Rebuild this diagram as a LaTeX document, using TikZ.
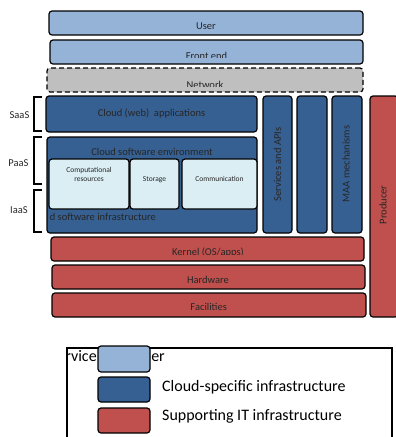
\documentclass[tikz,border=0pt]{standalone}
\usepackage{fontspec}
\setmainfont{Carlito}
\definecolor{consumerblue}{HTML}{95B3D7}
\definecolor{cloudblue}{HTML}{376092}
\definecolor{supportred}{HTML}{C0504D}
\definecolor{netgray}{HTML}{BFBFBF}
\definecolor{resourceblue}{HTML}{DBEEF4}
\tikzset{layer/.style={draw,line width=1.2pt,rounded corners=3pt,inner sep=0pt}}
\tikzset{consumer/.style={layer,fill=consumerblue}}
\tikzset{cloud/.style={layer,fill=cloudblue}}
\tikzset{support/.style={layer,fill=supportred}}
\tikzset{resource/.style={layer,fill=resourceblue}}
\tikzset{lbl/.style={anchor=base,inner sep=0pt,text=black!85,font=\fontsize{10.5}{12}\selectfont}}
\tikzset{small/.style={lbl,font=\fontsize{7.5}{9}\selectfont}}
\tikzset{vlbl/.style={inner sep=0pt,rotate=90,text=black!85,font=\fontsize{10.5}{12}\selectfont}}
\tikzset{legend/.style={anchor=base,inner sep=0pt,font=\fontsize{16}{19}\selectfont}}

\begin{document}
\begin{tikzpicture}[x=1pt,y=-1pt]
    \useasboundingbox (0,0) rectangle (396,437);
    % consumer side
    \node[consumer,minimum width=314pt,minimum height=24pt] (user) at (206,23) {};
    \node[lbl] (userlbl) at (206,29) {User};
    \node[consumer,minimum width=313pt,minimum height=24pt] (front) at (206.5,52) {};
    \begin{scope}
      \clip (0,0) rectangle (396,57);
      \node[lbl] (frontlbl) at (206.5,59) {Front end};
    \end{scope}
    \node[layer,dash pattern=on 5pt off 3pt,fill=netgray,minimum width=316pt,minimum height=24pt] (net) at (205,80) {};
    \begin{scope}
      \clip (0,0) rectangle (396,86);
      \node[lbl] (netlbl) at (205,88) {Network};
    \end{scope}
    % cloud stack
    \node[cloud,minimum width=211pt,minimum height=36pt] (apps) at (151.5,114) {};
    \node[lbl] (appslbl) at (151.5,116) {Cloud (web)\ \ applications};
    \node[cloud,minimum width=210pt,minimum height=96pt] (env) at (152,185) {};
    \node[lbl] (envlbl) at (152,155.7) {Cloud software environment};
    \begin{scope}
      \clip (50,137) rectangle (257,233);
      \node[lbl,anchor=base east] (infralbl) at (156,220.7) {Cloud software infrastructure};
    \end{scope}
    \node[resource,minimum width=80pt,minimum height=50pt] (comp) at (89,184) {};
    \node[small,align=center] (complbl) at (89,181.5) {Computational\\resources};
    \node[resource,minimum width=49pt,minimum height=50pt] (stor) at (154.5,184) {};
    \node[small] (storlbl) at (154.5,181.5) {Storage};
    \node[resource,minimum width=75pt,minimum height=50pt] (comm) at (219.5,184) {};
    \node[small] (commlbl) at (219.5,181.5) {Communication};
    % vertical columns
    \node[cloud,minimum width=29pt,minimum height=137pt] (svc) at (277.5,164.5) {};
    \node[vlbl] (svclbl) at (277.5,164.5) {Services and APIs};
    \node[cloud,minimum width=30pt,minimum height=137pt] (mid) at (312,164.5) {};
    \node[cloud,minimum width=30pt,minimum height=137pt] (maa) at (347,164.5) {};
    \node[vlbl] (maalbl) at (346,164) {MAA mechanisms};
    \node[support,minimum width=28pt,minimum height=221pt] (prod) at (384,206.5) {};
    \node[vlbl] (prodlbl) at (383,205) {Producer};
    % supporting layers
    \node[support,minimum width=313pt,minimum height=24pt] (kernel) at (207.5,249) {};
    \begin{scope}
      \clip (0,0) rectangle (396,254.5);
      \node[lbl] (kernellbl) at (208,255.2) {Kernel (OS/apps)};
    \end{scope}
    \node[support,minimum width=313pt,minimum height=24pt] (hw) at (208.5,277) {};
    \node[lbl] (hwlbl) at (208,283.3) {Hardware};
    \node[support,minimum width=314pt,minimum height=24pt] (fac) at (209,305) {};
    \node[lbl] (faclbl) at (208.7,310.7) {Facilities};
    % service models
    \draw[line width=1.1pt] (42,97) -- (34,97) -- (34,131) -- (42,131);
    \node[lbl] (saas) at (19.5,118.7) {SaaS};
    \draw[line width=1.1pt] (42,137) -- (34,137) -- (34,184) -- (42,184);
    \node[lbl] (paas) at (18.5,166) {PaaS};
    \draw[line width=1.1pt] (42,190) -- (34,190) -- (34,232) -- (42,232);
    \node[lbl] (iaas) at (19,213.3) {IaaS};
    % legend
    \draw[line width=1.1pt] (67,440) -- (67,348) -- (392,348) -- (392,440);
    \begin{scope}
      \clip (67,348) rectangle (392,437);
      \node[legend,anchor=base east] (conslbl) at (165,361.7) {Service consumer};
    \end{scope}
    \node[consumer,minimum width=52pt,minimum height=26pt] (conskey) at (124,359) {};
    \node[cloud,minimum width=52pt,minimum height=25pt] (cloudkey) at (124,389.5) {};
    \node[legend,anchor=base west] (cloudlbl) at (162,391) {Cloud-specific infrastructure};
    \node[support,minimum width=52pt,minimum height=25pt] (suppkey) at (124,420.5) {};
    \node[legend,anchor=base west] (supplbl) at (162,420) {Supporting IT infrastructure};
\end{tikzpicture}
\end{document}
